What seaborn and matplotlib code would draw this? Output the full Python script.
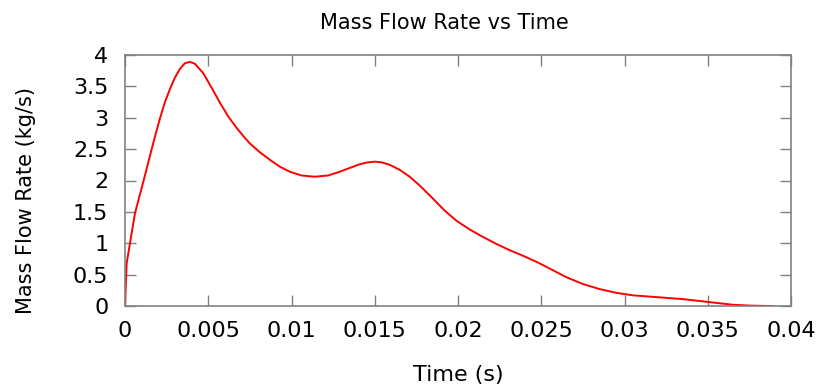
import matplotlib
matplotlib.use("Agg")
import matplotlib.pyplot as plt
import seaborn as sns
import pandas as pd

time_s = [0.0, 0.0001, 0.0006, 0.0011, 0.0017, 0.0021, 0.0024, 0.0027, 0.0030,
          0.0033, 0.0036, 0.0039, 0.0042, 0.0047, 0.0052, 0.0057, 0.0062, 0.0067,
          0.0071, 0.0075, 0.0081, 0.0087, 0.0093, 0.0099, 0.0106, 0.0114, 0.0122,
          0.0129, 0.0135, 0.0141, 0.0146, 0.0150, 0.0154, 0.0159, 0.0165, 0.0171,
          0.0177, 0.0185, 0.0192, 0.0199, 0.0207, 0.0215, 0.0223, 0.0231, 0.0240,
          0.0249, 0.0257, 0.0265, 0.0275, 0.0285, 0.0295, 0.0305, 0.0315, 0.0325,
          0.0335, 0.0345, 0.0355, 0.0365, 0.0375, 0.0383, 0.0389]
mass_flow = [0.0, 0.68, 1.48, 1.98, 2.60, 2.99, 3.25, 3.46, 3.64,
             3.78, 3.87, 3.89, 3.86, 3.71, 3.48, 3.24, 3.02, 2.84,
             2.71, 2.59, 2.45, 2.33, 2.22, 2.14, 2.08, 2.06, 2.08,
             2.14, 2.20, 2.26, 2.29, 2.30, 2.29, 2.25, 2.17, 2.06,
             1.92, 1.71, 1.52, 1.36, 1.22, 1.10, 0.99, 0.89, 0.79,
             0.68, 0.57, 0.46, 0.35, 0.27, 0.21, 0.17, 0.15, 0.13,
             0.11, 0.08, 0.05, 0.02, 0.007, 0.002, 0.0]

x_ticks = [0, 0.005, 0.01, 0.015, 0.02, 0.025, 0.03, 0.035, 0.04]
x_tick_labels = ["0", "0.005", "0.01", "0.015", "0.02", "0.025", "0.03", "0.035", "0.04"]
y_ticks = [0, 0.5, 1, 1.5, 2, 2.5, 3, 3.5, 4]
y_tick_labels = ["0", "0.5", "1", "1.5", "2", "2.5", "3", "3.5", "4"]

sns.set_style("ticks")
plt.rcParams['font.family'] = ['DejaVu Sans']

df = pd.DataFrame({"t": time_s, "m": mass_flow})

fig = plt.figure(figsize=(8.23, 3.89), dpi=100)
ax = fig.add_axes([125/823, 1 - 306/389, 666/823, 251/389])
sns.lineplot(data=df, x="t", y="m", ax=ax, color="#ff0000", linewidth=1.4, sort=False)

ax.set_xlim(0, 0.04)
ax.set_ylim(0, 4)
ax.set_xticks(x_ticks)
ax.set_xticklabels(x_tick_labels)
ax.set_yticks(y_ticks)
ax.set_yticklabels(y_tick_labels)
for s in ax.spines.values():
    s.set_visible(True)
    s.set_color("#808080")
    s.set_linewidth(1.2)
ax.tick_params(direction="in", length=8, width=1, color="#808080",
               top=True, right=True, labelsize=16, labelcolor="black")
ax.tick_params(axis="y", pad=12)
ax.tick_params(axis="x", pad=11)
ax.set_xlabel("Time (s)", fontsize=16, labelpad=17, color="black")
ax.set_ylabel("Mass Flow Rate (kg/s)", fontsize=15, color="black")
ax.yaxis.set_label_coords(-0.1336, 0.42)
ax.set_title("Mass Flow Rate vs Time", fontsize=15, pad=19, color="black", x=0.479)

fig.savefig("out.png", dpi=100)
